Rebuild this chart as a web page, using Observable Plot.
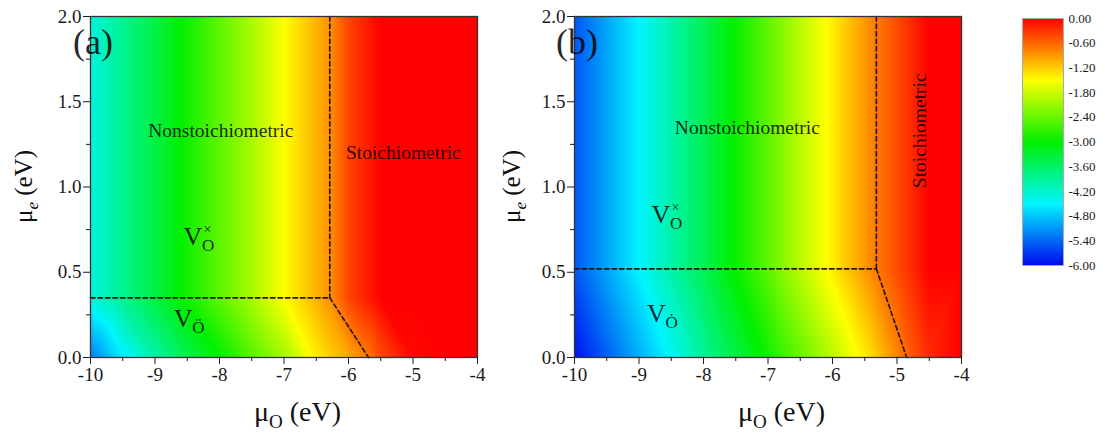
<!DOCTYPE html>
<html>
<head>
<meta charset="utf-8">
<script src="https://cdn.jsdelivr.net/npm/d3@7"></script>
<script src="https://cdn.jsdelivr.net/npm/@observablehq/plot@0.6"></script>
<style>
  html, body { margin: 0; padding: 0; background: #fff; }
  #wrap { position: relative; width: 1105px; height: 435px; overflow: hidden; background: #fff; }
  #wrap > svg, #wrap > figure { position: absolute; top: 0; margin: 0; }
</style>
</head>
<body>
<div id="wrap"></div>
<script>
// ---------- data ----------
// colour scale (rainbow, -6 .. 0)
const colorStops = ["#0008f0", "#00f5ff", "#00f000", "#ffff00", "#ff0000"];
const legendTicks = [0, -0.6, -1.2, -1.8, -2.4, -3.0, -3.6, -4.2, -4.8, -5.4, -6.0];

// axis ticks
const xMajor = [-10, -9, -8, -7, -6, -5, -4];
const xMinor = [-9.5, -8.5, -7.5, -6.5, -5.5, -4.5];
const yMajor = [0, 0.5, 1.0, 1.5, 2.0];
const yMinor = [0.25, 0.75, 1.25, 1.75];

// panel (a): value vs mu_O, above the boundary (mu_e >= 0.35) and at mu_e = 0
const splitA = 0.35;
const muOTopA = [-10, -9.5, -9, -8.5, -8, -7.5, -7, -6.5, -6.29, -6, -5.5, -5, -4.5, -4];
const valTopA = [-4.3, -3.85, -3.4, -2.9, -2.45, -2.0, -1.5, -1.05, -0.85, -0.4, 0, 0, 0, 0];
const muOBotA = [-10, -9.5, -9, -8.5, -8, -7.5, -7, -6.5, -6, -5.69, -5.5, -5, -4.5, -4];
const valBotA = [-5.25, -4.55, -3.98, -3.45, -3.0, -2.5, -2.05, -1.4, -1.0, -0.7, -0.45, -0.05, 0, 0];

// panel (b)
const splitB = 0.52;
const muOTopB = [-10, -9.5, -9, -8.5, -8, -7.5, -7, -6.5, -6, -5.5, -5.32, -5, -4.5, -4];
const valTopB = [-5.5, -5.0, -4.5, -4.0, -3.5, -2.95, -2.45, -1.9, -1.4, -0.9, -0.72, -0.45, 0, 0];
const muOBotB = [-10, -9.5, -9, -8.5, -8, -7.5, -7, -6.5, -6, -5.5, -5, -4.85, -4.5, -4];
const valBotB = [-5.95, -5.45, -4.95, -4.45, -3.9, -3.4, -2.9, -2.4, -1.9, -1.4, -0.8, -0.6, -0.25, 0];

// dashed phase boundaries: [mu_O, mu_e] corner and bottom end of the slanted part
const cornerA = [-6.29, 0.35];
const bottomEndA = -5.69;
const cornerB = [-5.32, 0.52];
const bottomEndB = -4.85;

// region labels
const labelsA = [
  {x: -9.96, y: 1.845, text: "(a)", size: 36, rotate: 0},
  {x: -7.98, y: 1.33, text: "Nonstoichiometric", size: 19.5, rotate: 0},
  {x: -5.15, y: 1.20, text: "Stoichiometric", size: 19.5, rotate: 0}
];
const labelsB = [
  {x: -9.96, y: 1.845, text: "(b)", size: 36, rotate: 0},
  {x: -7.32, y: 1.35, text: "Nonstoichiometric", size: 19.5, rotate: 0},
  {x: -4.64, y: 1.33, text: "Stoichiometric", size: 19.5, rotate: -90}
];
// defect labels: V with subscript O and charge mark
const defectsA = [
  {x: -8.55, y: 0.657, sub: "O", sup: "\u00d7"},
  {x: -8.70, y: 0.176, sub: "\u00d6", sup: ""}
];
const defectsB = [
  {x: -8.80, y: 0.786, sub: "O", sup: "\u00d7"},
  {x: -8.87, y: 0.205, sub: "\u022e", sup: ""}
];

// ---------- drawing ----------
const FONT = "'Liberation Serif', 'Times New Roman', serif";
const rainbow = d3.piecewise(d3.interpolateRgb, colorStops);
const colorScale = () => ({type: "linear", domain: [-6, 0], interpolate: rainbow});

function samples(muTop, valTop, muBot, valBot, split) {
  const pts = [];
  muTop.forEach((x, i) => { pts.push({x, y: split, v: valTop[i]}); pts.push({x, y: 2, v: valTop[i]}); });
  muBot.forEach((x, i) => pts.push({x, y: 0, v: valBot[i]}));
  return pts;
}
function boundary(corner, bottomEnd) {
  return [
    {seg: 1, x: corner[0], y: 2}, {seg: 1, x: corner[0], y: corner[1]},
    {seg: 2, x: -10, y: corner[1]}, {seg: 2, x: corner[0], y: corner[1]},
    {seg: 3, x: corner[0], y: corner[1]}, {seg: 3, x: bottomEnd, y: 0}
  ];
}

function panel({left, marginLeft, marginRight, pts, bnd, labels, defects, yLabelX, xLabelShift}) {
  const svg = Plot.plot({
    width: 500, height: 435,
    marginLeft, marginRight, marginTop: 16, marginBottom: 78,
    x: {domain: [-10, -4], label: null},
    y: {domain: [0, 2], label: null},
    color: colorScale(),
    style: {fontFamily: FONT, fontSize: "19px", background: "transparent", color: "#1a1a1a", overflow: "visible"},
    marks: [
      Plot.raster(pts, {x: "x", y: "y", fill: "v", interpolate: "barycentric", x1: -10, x2: -4, y1: 0, y2: 2, pixelSize: 1}),
      Plot.line(bnd, {x: "x", y: "y", z: "seg", stroke: "#2a1610", strokeWidth: 1.7, strokeDasharray: "4.5 3"}),
      Plot.frame({stroke: "#333", strokeWidth: 1.3}),
      Plot.axisX(xMajor, {tickSize: 7, tickPadding: 3, tickFormat: d => String(d), label: null, fontSize: 19, fontFamily: FONT}),
      Plot.axisX(xMinor, {tickSize: 4, tickFormat: () => "", label: null}),
      Plot.axisY(yMajor, {tickSize: 7, tickPadding: 2, tickFormat: d => d.toFixed(1), label: null, fontSize: 19, fontFamily: FONT}),
      Plot.axisY(yMinor, {tickSize: 4, tickFormat: () => "", label: null}),
      Plot.text(labels, {x: "x", y: "y", text: "text", fontSize: "size", rotate: "rotate",
        textAnchor: d => d.rotate ? "middle" : (d.text.startsWith("(") ? "start" : "middle"),
        fill: "black", fillOpacity: 0.85, fontFamily: FONT})
    ]
  });
  svg.style.left = left + "px";
  document.getElementById("wrap").appendChild(svg);

  const X = svg.scale("x"), Y = svg.scale("y");
  const s = d3.select(svg);
  // defect labels (one text element each, with tspans)
  for (const d of defects) {
    const px = X.apply(d.x), py = Y.apply(d.y);
    const t = s.append("text").attr("x", px).attr("y", py)
      .attr("font-family", FONT).attr("fill", "black").attr("fill-opacity", 0.85)
      .attr("text-anchor", "start").attr("font-size", 26);
    t.append("tspan").text("V");
    t.append("tspan").attr("x", px + 18.5).attr("y", py + 6).attr("font-size", 17).text(d.sub);
    if (d.sup) t.append("tspan").attr("x", px + 20).attr("y", py - 11).attr("font-size", 14).text(d.sup);
  }
  // axis titles
  const fx0 = marginLeft, fx1 = 500 - marginRight;
  const xt = s.append("text").attr("x", (fx0 + fx1) / 2 + xLabelShift).attr("y", 421)
    .attr("font-family", FONT).attr("font-size", 28).attr("text-anchor", "middle").attr("fill", "#111");
  xt.append("tspan").text("\u03bc");
  xt.append("tspan").attr("dy", 7).attr("font-size", 19).text("O");
  xt.append("tspan").attr("dy", -7).text(" (eV)");

  const yt = s.append("text").attr("transform", `translate(${yLabelX},${(16 + 357) / 2}) rotate(-90)`)
    .attr("font-family", FONT).attr("font-size", 25).attr("text-anchor", "middle").attr("fill", "#111");
  yt.append("tspan").text("\u03bc");
  yt.append("tspan").attr("dy", 6).attr("font-size", 17).attr("font-style", "italic").text("e");
  yt.append("tspan").attr("dy", -6).text(" (eV)");
  return svg;
}

panel({left: 0, marginLeft: 90, marginRight: 23,
  pts: samples(muOTopA, valTopA, muOBotA, valBotA, splitA),
  bnd: boundary(cornerA, bottomEndA), labels: labelsA, defects: defectsA,
  yLabelX: 32, xLabelShift: 14});

panel({left: 480, marginLeft: 94, marginRight: 19,
  pts: samples(muOTopB, valTopB, muOBotB, valBotB, splitB),
  bnd: boundary(cornerB, bottomEndB), labels: labelsB, defects: defectsB,
  yLabelX: 40, xLabelShift: 14});

// colour bar legend
const legend = Plot.plot({
  width: 115, height: 290,
  marginLeft: 32, marginRight: 42, marginTop: 18, marginBottom: 25,
  x: {domain: [0, 1], axis: null},
  y: {domain: [-6, 0], axis: null},
  color: colorScale(),
  style: {fontFamily: FONT, fontSize: "13px", background: "transparent", color: "#1a1a1a", overflow: "visible"},
  marks: [
    Plot.raster({x1: 0, x2: 1, y1: -6, y2: 0, fill: (x, y) => y, pixelSize: 1}),
    Plot.frame({stroke: "#aaa", strokeWidth: 1}),
    Plot.axisY(legendTicks, {anchor: "right", tickSize: 0, tickPadding: 5, tickFormat: d => d.toFixed(2), label: null, fontSize: 13, fontFamily: FONT})
  ]
});
legend.style.left = "990px";
document.getElementById("wrap").appendChild(legend);
</script>
</body>
</html>
